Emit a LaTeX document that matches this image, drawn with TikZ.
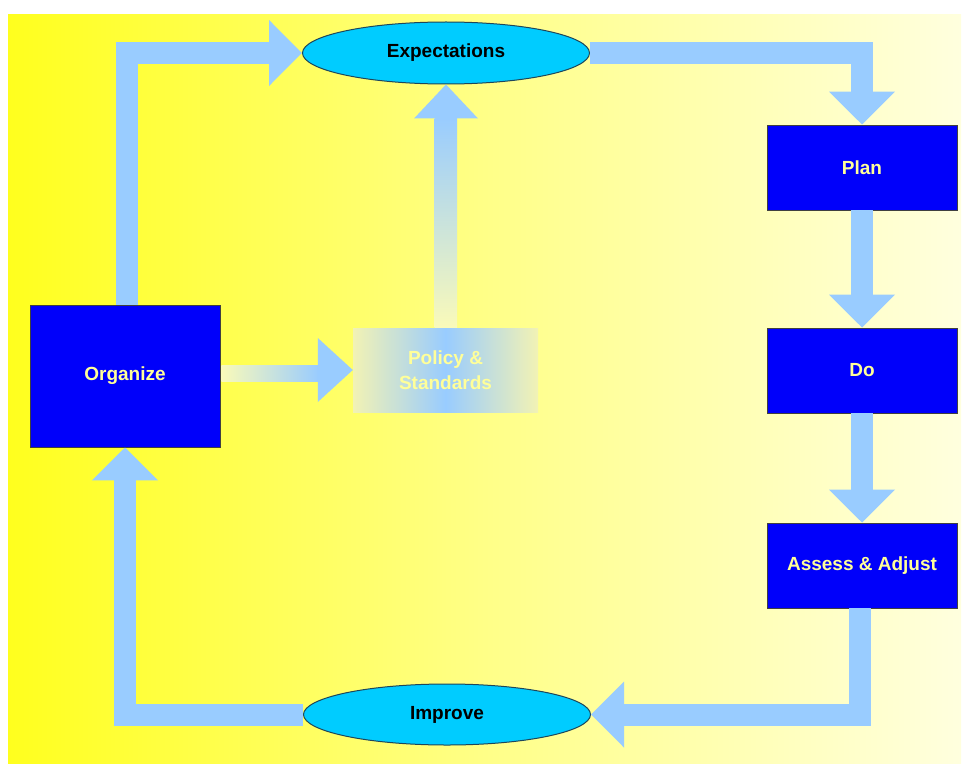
\documentclass[tikz,border=0pt]{standalone}
\usepackage{fontspec}
\setmainfont{Liberation Sans}
\usetikzlibrary{arrows.meta,shapes.geometric,calc}
\definecolor{bgL}{RGB}{255,255,30}
\definecolor{bgM}{RGB}{255,255,135}
\definecolor{bgR}{RGB}{255,255,222}
\definecolor{arrowc}{RGB}{153,204,255}
\definecolor{boxblue}{RGB}{0,0,250}
\definecolor{boxtext}{RGB}{255,255,153}
\definecolor{ellfill}{RGB}{0,204,255}
\definecolor{elldraw}{RGB}{30,70,90}
\definecolor{fadeL}{RGB}{250,250,185}
\definecolor{fadeP}{RGB}{242,242,180}
\begin{document}
\begin{tikzpicture}[x=1pt,y=-1pt,
  txt/.style={font=\bfseries\fontsize{19}{25}\selectfont},
  bluebox/.style={txt, rectangle, fill=boxblue, draw=black!75, line width=0.8pt,
    text=boxtext, minimum width=190pt, minimum height=85pt, inner sep=0pt},
  ellnode/.style={txt, ellipse, fill=ellfill, draw=elldraw, line width=1pt,
    text=black, minimum width=287pt, minimum height=62pt, inner sep=0pt},
  bigarrow/.style={draw=arrowc, line width=22pt, line join=miter,
    -{Triangle[length=33pt, width=64pt]}},
]
\useasboundingbox (0,0) rectangle (963,765);
\shade[left color=bgL, right color=bgR, middle color=bgM] (8,15) rectangle (961,763);

% nodes
\node[bluebox, minimum height=142pt] (org) at (125,376) {Organize};
\node[ellnode] (exp) at (446,53) {Expectations};
\node[bluebox] (plan) at (862,167.5) {Plan};
\node[bluebox] (do) at (862,370.5) {Do};
\node[bluebox] (ass) at (862,565.5) {Assess \& Adjust};
\node[ellnode, minimum height=61pt] (imp) at (447,714.5) {Improve};

% policy box (faded)
\shade[left color=fadeP, right color=fadeP, middle color=arrowc]
  (353,328) rectangle (538,412);
\node[txt, text=boxtext, align=center, minimum width=185pt, minimum height=84pt, inner sep=0pt]
  (pol) at (445.5,370) {Policy \&\\Standards};

% main cycle arrows
\draw[bigarrow] ($(org.north)+(2,0)$) |- (exp.west);
\draw[bigarrow] (exp.east) -| (plan.north);
\draw[bigarrow] (plan.south) -- (do.north);
\draw[bigarrow] (do.south) -- (ass.north);
\draw[bigarrow] ($(ass.south)+(-2,0)$) |- (imp.east);
\draw[bigarrow] (imp.west) -| (org.south);

% faded arrow organize -> policy
\shade[left color=fadeL, right color=arrowc]
  ($(org.east)+(1,-11)$) rectangle ($(pol.west)+(-34,11)$);
\fill[arrowc] ($(pol.west)+(-35,-32)$) -- (pol.west) -- ($(pol.west)+(-35,32)$) -- cycle;

% faded arrow policy -> expectations
\shade[top color=arrowc, bottom color=fadeL]
  ($(pol.north)+(-11,0)$) rectangle ($(exp.south)+(11,34)$);
\fill[arrowc] ($(exp.south)+(-32,34)$) -- (exp.south) -- ($(exp.south)+(32,34)$) -- cycle;
\end{tikzpicture}
\end{document}
